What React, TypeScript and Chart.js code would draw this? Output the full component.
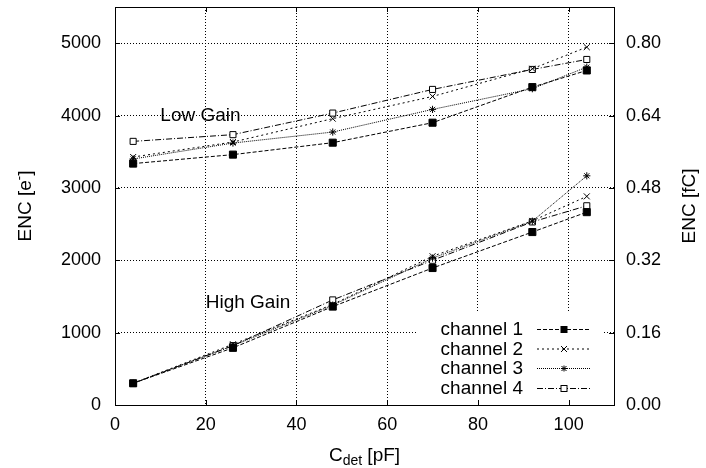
import { useEffect, useRef } from "react";
import { Chart, registerables } from "chart.js";

Chart.register(...registerables);

// ---- data ----
const cdet = [4, 26, 48, 70, 92, 104];
const channelNames = ["channel 1", "channel 2", "channel 3", "channel 4"];

const lowGainCh1 = [3336, 3460, 3625, 3901, 4393, 4623];
const lowGainCh2 = [3427, 3634, 3957, 4264, 4647, 4945];
const lowGainCh3 = [3400, 3620, 3772, 4085, 4371, 4669];
const lowGainCh4 = [3643, 3736, 4034, 4361, 4637, 4775];

const highGainCh1 = [300, 790, 1360, 1893, 2390, 2665];
const highGainCh2 = [300, 840, 1390, 2056, 2544, 2883];
const highGainCh3 = [300, 820, 1380, 2030, 2540, 3167];
const highGainCh4 = [300, 820, 1452, 2000, 2530, 2753];

const xTicks = [0, 20, 40, 60, 80, 100];
const yTicks = [0, 1000, 2000, 3000, 4000, 5000];
const fcTicks = [0, 0.16, 0.32, 0.48, 0.64, 0.8];
const fcPerElectron = 1.6e-4;

const xMax = 110;
const yMax = 5500;

const FONT = "'Liberation Sans', Arial, Helvetica, sans-serif";

type Style = { dash: number[]; point: string; fill: string; radius: number };
const styles: Style[] = [
  { dash: [4, 2], point: "rect", fill: "#000", radius: 5 },
  { dash: [2, 3], point: "crossRot", fill: "#000", radius: 4.2 },
  { dash: [1, 1], point: "star", fill: "#000", radius: 3.6 },
  { dash: [6, 2, 1, 2], point: "rect", fill: "#fff", radius: 4.3 },
];

const lowGain = [lowGainCh1, lowGainCh2, lowGainCh3, lowGainCh4];
const highGain = [highGainCh1, highGainCh2, highGainCh3, highGainCh4];

function drawMarker(ctx: CanvasRenderingContext2D, kind: number, x: number, y: number) {
  ctx.save();
  ctx.setLineDash([]);
  ctx.lineWidth = 1;
  ctx.strokeStyle = "#000";
  if (kind === 0) {
    ctx.fillStyle = "#000";
    ctx.fillRect(x - 3.5, y - 3.5, 7, 7);
  } else if (kind === 3) {
    ctx.fillStyle = "#fff";
    ctx.fillRect(x - 3, y - 3, 6, 6);
    ctx.strokeRect(x - 3, y - 3, 6, 6);
  } else {
    const r = kind === 2 ? 2.5 : 3;
    ctx.beginPath();
    ctx.moveTo(x - r, y - r);
    ctx.lineTo(x + r, y + r);
    ctx.moveTo(x - r, y + r);
    ctx.lineTo(x + r, y - r);
    if (kind === 2) {
      ctx.moveTo(x - 3, y);
      ctx.lineTo(x + 3, y);
      ctx.moveTo(x, y - 3);
      ctx.lineTo(x, y + 3);
    }
    ctx.stroke();
  }
  ctx.restore();
}

const decorPlugin = {
  id: "decor",
  beforeDatasetsDraw(chart: any) {
    const { ctx, chartArea } = chart;
    ctx.save();
    ctx.fillStyle = "#fff";
    ctx.fillRect(417, 313, chartArea.right - 10 - 417, chartArea.bottom - 313);
    ctx.restore();
  },
  afterDraw(chart: any) {
    const { ctx, chartArea, scales } = chart;
    const { left, right, top, bottom } = chartArea;
    ctx.save();
    // frame
    ctx.strokeStyle = "#000";
    ctx.lineWidth = 1;
    ctx.setLineDash([]);
    ctx.strokeRect(Math.round(left) + 0.5, Math.round(top) + 0.5, Math.round(right - left), Math.round(bottom - top));
    // inward ticks
    ctx.beginPath();
    for (const v of xTicks) {
      const px = Math.round(scales.x.getPixelForValue(v)) + 0.5;
      ctx.moveTo(px, bottom);
      ctx.lineTo(px, bottom - 5);
      ctx.moveTo(px, top);
      ctx.lineTo(px, top + 5);
    }
    for (const v of yTicks) {
      const py = Math.round(scales.y.getPixelForValue(v)) + 0.5;
      ctx.moveTo(left, py);
      ctx.lineTo(left + 5, py);
      ctx.moveTo(right, py);
      ctx.lineTo(right - 5, py);
    }
    ctx.stroke();

    ctx.fillStyle = "#000";
    // annotations
    ctx.font = `19px ${FONT}`;
    ctx.textBaseline = "middle";
    ctx.textAlign = "left";
    ctx.fillText("Low Gain", scales.x.getPixelForValue(10), scales.y.getPixelForValue(4000));
    ctx.fillText("High Gain", scales.x.getPixelForValue(20), scales.y.getPixelForValue(1410));

    // legend
    const rowY = [329, 348.5, 368, 388];
    channelNames.forEach((name, i) => {
      const y = rowY[i];
      ctx.font = `19px ${FONT}`;
      ctx.textAlign = "right";
      ctx.textBaseline = "middle";
      ctx.fillStyle = "#000";
      ctx.fillText(name, 523, y + 1);
      ctx.save();
      ctx.setLineDash(styles[i].dash);
      ctx.lineWidth = 1;
      ctx.beginPath();
      ctx.moveTo(537, y + 0.5);
      ctx.lineTo(591, y + 0.5);
      ctx.stroke();
      ctx.restore();
      drawMarker(ctx, i, 564, y + 0.5);
    });

    // axis titles
    const cy = (top + bottom) / 2;
    ctx.textBaseline = "alphabetic";
    ctx.textAlign = "left";
    // left title
    ctx.save();
    ctx.translate(31, cy);
    ctx.rotate(-Math.PI / 2);
    ctx.font = `19px ${FONT}`;
    const a = "ENC [e";
    const wA = ctx.measureText(a).width;
    ctx.font = `13px ${FONT}`;
    const wS = ctx.measureText("-").width;
    ctx.font = `19px ${FONT}`;
    const wB = ctx.measureText("]").width;
    const sx = -(wA + wS + wB) / 2;
    ctx.fillText(a, sx, 0);
    ctx.font = `13px ${FONT}`;
    ctx.fillText("-", sx + wA, -8);
    ctx.font = `19px ${FONT}`;
    ctx.fillText("]", sx + wA + wS, 0);
    ctx.restore();
    // right title
    ctx.save();
    ctx.translate(695, cy);
    ctx.rotate(-Math.PI / 2);
    ctx.font = `19px ${FONT}`;
    ctx.textAlign = "center";
    ctx.fillText("ENC [fC]", 0, 0);
    ctx.restore();
    // bottom title
    ctx.font = `19px ${FONT}`;
    const c = "C";
    const wc = ctx.measureText(c).width;
    ctx.font = `14px ${FONT}`;
    const wd = ctx.measureText("det").width;
    ctx.font = `19px ${FONT}`;
    const rest = " [pF]";
    const wr = ctx.measureText(rest).width;
    const cx = (left + right) / 2;
    const bx = cx - (wc + wd + wr) / 2;
    ctx.fillText(c, bx, 461);
    ctx.font = `14px ${FONT}`;
    ctx.fillText("det", bx + wc, 465);
    ctx.font = `19px ${FONT}`;
    ctx.fillText(rest, bx + wc + wd, 461);
    ctx.restore();
  },
};

const zeroPad = (s: any) => {
  s.paddingTop = 0;
  s.paddingBottom = 0;
  s.paddingLeft = 0;
  s.paddingRight = 0;
};

export default function App() {
  const ref = useRef<HTMLCanvasElement | null>(null);
  useEffect(() => {
    if (!ref.current) return;
    const datasets: any[] = [];
    for (let i = 0; i < 4; i++) {
      const st = styles[i];
      for (const series of [lowGain[i], highGain[i]]) {
        datasets.push({
          label: channelNames[i],
          data: cdet.map((x, k) => ({ x, y: series[k] })),
          borderColor: "#000",
          borderWidth: 1,
          borderDash: st.dash,
          backgroundColor: st.fill,
          pointStyle: st.point,
          pointRadius: st.radius,
          pointBorderColor: "#000",
          pointBackgroundColor: st.fill,
          pointBorderWidth: 1,
          fill: false,
          tension: 0,
          yAxisID: "y",
        });
      }
    }
    const tickFont = { size: 18, family: FONT };
    const chart = new Chart(ref.current, {
      type: "line",
      data: { datasets },
      options: {
        animation: false,
        responsive: false,
        maintainAspectRatio: false,
        layout: { padding: { top: 7, left: 0, right: 0, bottom: 0 } },
        plugins: { legend: { display: false }, tooltip: { enabled: false } },
        scales: {
          x: {
            type: "linear",
            min: 0,
            max: xMax,
            afterBuildTicks: (s: any) => {
              s.ticks = xTicks.map((v) => ({ value: v }));
            },
            afterFit: (s: any) => {
              s.height = 63;
              zeroPad(s);
            },
            grid: { color: "#000", lineWidth: 1, drawTicks: false },
            border: { display: false, dash: [1, 2] },
            ticks: { color: "#000", padding: 9, font: tickFont, callback: (v: any) => String(v) },
          },
          y: {
            type: "linear",
            position: "left",
            min: 0,
            max: yMax,
            afterBuildTicks: (s: any) => {
              s.ticks = yTicks.map((v) => ({ value: v }));
            },
            afterFit: (s: any) => {
              s.width = 115;
              zeroPad(s);
            },
            grid: { color: "#000", lineWidth: 1, drawTicks: false },
            border: { display: false, dash: [1, 2] },
            ticks: { color: "#000", padding: 14, font: tickFont, callback: (v: any) => String(v) },
          },
          y2: {
            type: "linear",
            position: "right",
            min: 0,
            max: yMax * fcPerElectron,
            afterBuildTicks: (s: any) => {
              s.ticks = fcTicks.map((v) => ({ value: v }));
            },
            afterFit: (s: any) => {
              s.width = 92;
              zeroPad(s);
            },
            grid: { drawOnChartArea: false, drawTicks: false },
            border: { display: false },
            ticks: {
              color: "#000",
              padding: 12,
              font: tickFont,
              callback: (v: any) => Number(v).toFixed(2),
            },
          },
        },
      },
      plugins: [decorPlugin],
    } as any);
    return () => chart.destroy();
  }, []);
  return (
    <div style={{ position: "fixed", left: 0, top: 0, width: 706, height: 468, background: "#fff" }}>
      <canvas ref={ref} width={706} height={468} style={{ display: "block" }} />
    </div>
  );
}
